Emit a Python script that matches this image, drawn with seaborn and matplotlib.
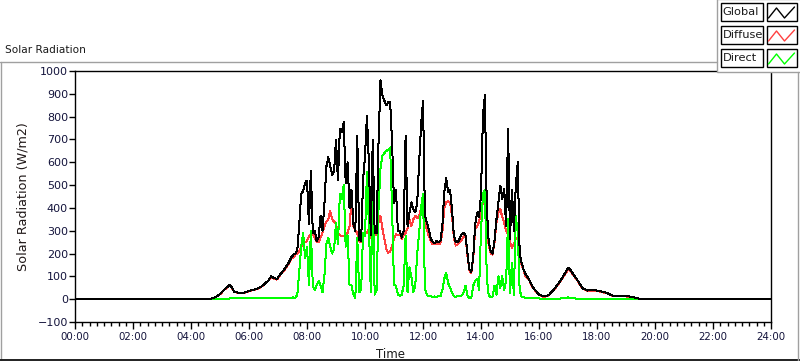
import numpy as np
import pandas as pd
import matplotlib
matplotlib.use("Agg")
import matplotlib.pyplot as plt
from matplotlib.ticker import MultipleLocator, FuncFormatter
from matplotlib.lines import Line2D
from matplotlib.patches import Rectangle
import seaborn as sns

# time of day in minutes (00:00 = 0)
pre_minutes = [0, 276, 280, 290, 300, 310, 320, 325, 330, 340, 350, 360, 370,
               380, 390, 400, 406, 412, 418, 424, 430, 436, 442, 448, 452]
day_minutes = list(range(456, 961, 4))          # 07:36 .. 16:00, 4 min steps
post_minutes = [970, 980, 990, 1000, 1010, 1015, 1020, 1025, 1030, 1040, 1050,
                1060, 1070, 1080, 1090, 1100, 1110, 1120, 1130, 1140, 1150,
                1160, 1170, 1440]
minutes = pre_minutes + day_minutes + post_minutes

# Global radiation (W/m2)
global_rad = [
    0, 0, 2, 8, 22, 45, 62, 50, 32, 28, 29, 36, 42, 48, 62, 82, 100, 92, 88,
    108, 122, 140, 160, 185, 195,
    # 07:36 - 09:56
    200, 215, 330, 460, 475, 510, 520, 330, 563, 290, 300, 255, 270, 365, 300,
    416, 580, 622, 585, 545, 560, 700, 520, 746, 732, 776, 510, 600, 400, 480,
    330, 300, 717, 260, 255, 520,
    # 10:00 - 11:56
    629, 805, 600, 280, 700, 290, 290, 688, 959, 893, 870, 850, 863, 863, 688,
    420, 480, 300, 298, 270, 300, 717, 320, 380, 424, 394, 380, 420, 600, 761,
    # 12:00 - 13:56
    870, 365, 335, 306, 265, 250, 245, 255, 250, 255, 320, 470, 530, 468, 480,
    394, 277, 250, 250, 265, 285, 290, 280, 200, 130, 120, 189, 330, 380, 360,
    # 14:00 - 16:00
    460, 805, 893, 400, 250, 210, 200, 260, 350, 424, 497, 440, 482, 320, 746,
    265, 480, 300, 497, 600, 200, 160, 130, 110, 98, 85, 65, 50, 40, 30, 20,
    # afternoon / evening
    12, 18, 40, 68, 100, 118, 138, 128, 112, 82, 48, 38, 40, 38, 33, 28, 17,
    13, 13, 13, 11, 6, 0, 0,
]

diffuse_rad = [
    0, 0, 2, 8, 21, 43, 60, 48, 31, 27, 28, 35, 41, 47, 60, 80, 97, 90, 86,
    105, 118, 135, 155, 178, 182,
    195, 200, 210, 230, 240, 250, 255, 275, 285, 285, 270, 250, 250, 270, 290,
    320, 340, 350, 387, 350, 340, 330, 290, 280, 277, 277, 280, 290, 320, 430,
    320, 300, 290, 255, 250, 277,
    298, 290, 310, 270, 290, 280, 285, 335, 365, 310, 265, 220, 203, 210, 233,
    265, 285, 280, 285, 265, 280, 290, 310, 350, 320, 350, 365, 355, 365, 400,
    424, 335, 306, 277, 255, 240, 240, 245, 240, 245, 290, 400, 425, 430, 424,
    365, 265, 235, 240, 250, 260, 277, 270, 190, 125, 115, 182, 306, 320, 340,
    380, 430, 410, 300, 235, 200, 195, 250, 335, 380, 394, 360, 335, 300, 285,
    250, 225, 240, 265, 270, 190, 152, 128, 101, 94, 83, 62, 48, 38, 29, 18,
    10, 16, 38, 65, 96, 112, 130, 122, 108, 80, 46, 37, 38, 36, 31, 26, 16,
    12, 12, 12, 10, 5, 0, 0,
]

direct_rad = [
    0, 0, 0, 1, 2, 2, 3, 3, 3, 3, 3, 3, 3, 3, 3, 3, 3, 3, 3,
    3, 3, 3, 4, 5, 8,
    5, 20, 120, 230, 290, 180, 230, 60, 300, 60, 40, 60, 80, 60, 30,
    100, 240, 270, 230, 200, 220, 335, 240, 460, 440, 500, 230, 280, 60, 60,
    20, 5, 270, 30, 40, 290,
    277, 556, 330, 30, 480, 20, 40, 400, 570, 629, 640, 650, 655, 665, 400,
    60, 60, 20, 15, 20, 60, 277, 30, 140, 100, 30, 60, 200, 290, 400,
    460, 45, 18, 12, 14, 10, 12, 10, 14, 12, 40, 90, 115, 70, 50,
    30, 12, 10, 14, 12, 16, 30, 60, 15, 6, 6, 60, 80, 90, 40,
    300, 460, 480, 90, 15, 10, 12, 60, 20, 100, 50, 100, 40, 80, 350,
    25, 160, 20, 365, 290, 40, 10, 8, 6, 6, 5, 5, 5, 4, 3, 3,
    2, 2, 2, 2, 4, 6, 8, 6, 4, 2, 2, 2, 2, 2, 2, 2, 2,
    2, 2, 2, 2, 1, 0, 0,
]

series_names = ["Diffuse", "Direct", "Global"]
series_colors = {"Global": "#000000", "Diffuse": "#ff4040", "Direct": "#00ff00"}

df = pd.concat([
    pd.DataFrame({"minute": minutes, "value": diffuse_rad, "series": "Diffuse"}),
    pd.DataFrame({"minute": minutes, "value": direct_rad, "series": "Direct"}),
    pd.DataFrame({"minute": minutes, "value": global_rad, "series": "Global"}),
], ignore_index=True)

sns.set_style("white")
plt.rcParams['font.family'] = ['DejaVu Sans']

W, H = 800, 361
fig = plt.figure(figsize=(W / 100, H / 100), dpi=100)
ax = fig.add_axes([75 / W, 1 - 322 / H, (771 - 75) / W, (322 - 71) / H])

sns.lineplot(data=df, x="minute", y="value", hue="series",
             hue_order=series_names, palette=series_colors,
             estimator=None, linewidth=0.72, legend=False, ax=ax,
             antialiased=False)

ax.set_xlim(0, 1440)
ax.set_ylim(-100, 1000)
ax.xaxis.set_major_locator(MultipleLocator(120))
ax.xaxis.set_minor_locator(MultipleLocator(15))
ax.yaxis.set_major_locator(MultipleLocator(100))
ax.xaxis.set_major_formatter(FuncFormatter(lambda v, p: "%02d:%02d" % (int(v) // 60, int(v) % 60)))

label_col = "#14143c"
ax.tick_params(axis="x", which="major", direction="out", length=5, width=1,
               color="black", labelsize=7.4, labelcolor=label_col, pad=2, bottom=True)
ax.tick_params(axis="x", which="minor", direction="out", length=3, width=1,
               color="black", bottom=True)
ax.tick_params(axis="y", which="major", direction="out", length=4, width=1,
               color="black", labelsize=8, labelcolor=label_col, pad=1, left=True)
for s in ax.spines.values():
    s.set_color("black")
    s.set_linewidth(1)

ax.set_xlabel("Time", fontsize=8.5, color="#1a1a1a")
ax.xaxis.set_label_coords((391 - 75) / 696, -0.104)
ax.set_ylabel("Solar Radiation (W/m2)", fontsize=9.2, color="#201818")
ax.yaxis.set_label_coords((30 - 75) / 696, 0.5)

# chart title
fig.text(5 / W, 1 - 50 / H, "Solar Radiation", fontsize=7.6, ha="left", va="center", color="#1a1a1a")

# panel frame
def px_line(x0, y0, x1, y1, color, lw=1):
    fig.add_artist(Line2D([x0 / W, x1 / W], [1 - y0 / H, 1 - y1 / H],
                          transform=fig.transFigure, color=color, lw=lw, zorder=6))

px_line(0, 62, 717, 62, "#a0a0a0")
px_line(0.5, 62, 0.5, 361, "#a0a0a0")
px_line(0, 359.5, 800, 359.5, "#202020", lw=1.4)
px_line(798, 72, 798, 361, "#a0a0a0")

# legend panel
fig.add_artist(Rectangle((717 / W, 1 - 72 / H), 84 / W, 73 / H, transform=fig.transFigure,
                         facecolor="white", edgecolor="#a0a0a0", lw=1, zorder=5))
for name, top in [("Global", 3), ("Diffuse", 26), ("Direct", 49)]:
    h = 18
    fig.add_artist(Rectangle((720.5 / W, 1 - (top + h) / H), 42 / W, h / H,
                             transform=fig.transFigure, facecolor="white",
                             edgecolor="black", lw=1, zorder=7))
    fig.text(722.5 / W, 1 - (top + h / 2) / H, name, fontsize=8.2, ha="left",
             va="center", color="#1a1a1a", zorder=8)
    x0, x1 = 766.5, 796.5
    fig.add_artist(Rectangle((x0 / W, 1 - (top + h) / H), (x1 - x0) / W, h / H,
                             transform=fig.transFigure, facecolor="white",
                             edgecolor="black", lw=1, zorder=7))
    zx = [x0 + 2, x0 + 10, x0 + 18, x0 + 28]
    zy = [top + 15, top + 5, top + 15, top + 4]
    fig.add_artist(Line2D([v / W for v in zx], [1 - v / H for v in zy],
                          transform=fig.transFigure, color=series_colors[name],
                          lw=1, zorder=8))

fig.savefig("out.png", dpi=100, facecolor="white")
